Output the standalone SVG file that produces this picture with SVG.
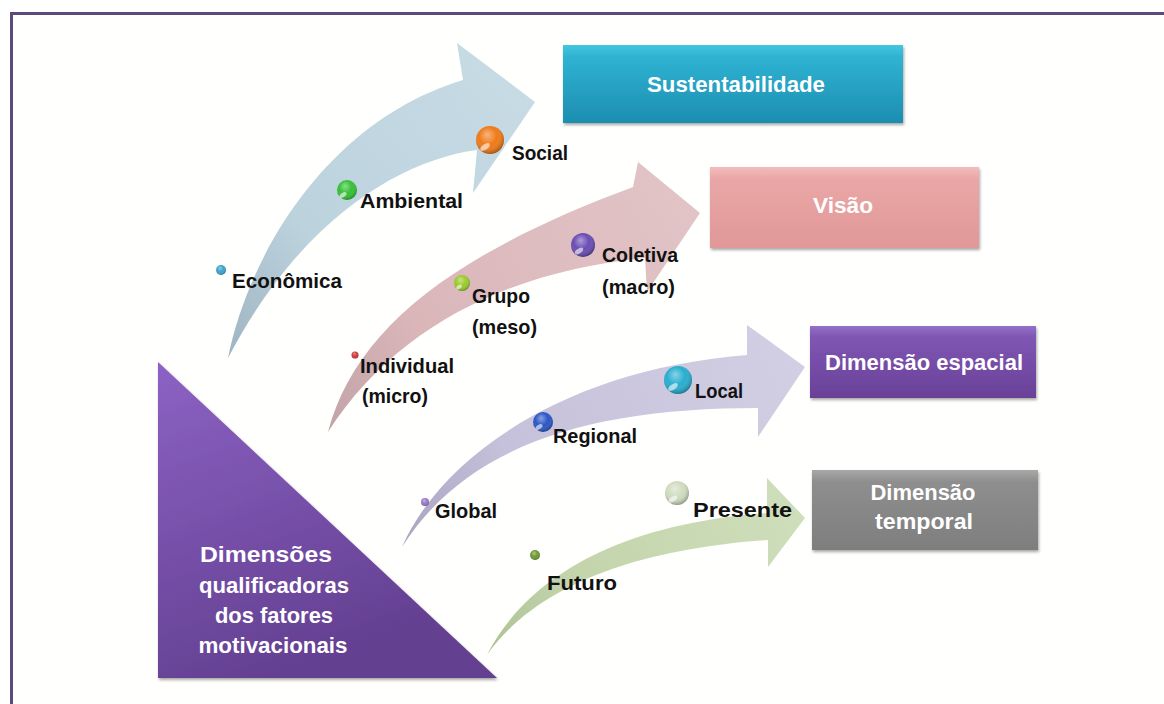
<svg xmlns="http://www.w3.org/2000/svg" width="1164" height="704" viewBox="0 0 1164 704">
<defs>
<style>
.lbl{font-family:"Liberation Sans Narrow","Liberation Sans",Arial,sans-serif;font-weight:bold;font-size:21px;fill:#111}
.wt{font-family:"Liberation Sans Narrow","Liberation Sans",Arial,sans-serif;font-weight:bold;font-size:22px;fill:#fff}
.gloss{fill:url(#gloss)}
.hl{fill:#fff;fill-opacity:0.6}
</style>
<radialGradient id="gloss" cx="0.45" cy="0.4" r="0.6" fx="0.4" fy="0.3">
<stop offset="0" stop-color="#fff" stop-opacity="0.45"/>
<stop offset="0.55" stop-color="#fff" stop-opacity="0"/>
<stop offset="1" stop-color="#000" stop-opacity="0.3"/>
</radialGradient>
<linearGradient id="g1" gradientUnits="userSpaceOnUse" x1="228" y1="358" x2="535" y2="100">
<stop offset="0" stop-color="#9fb4c2"/><stop offset="0.35" stop-color="#bcd2dd"/><stop offset="1" stop-color="#c6dbe4"/>
</linearGradient>
<linearGradient id="g2" gradientUnits="userSpaceOnUse" x1="328" y1="432" x2="700" y2="213">
<stop offset="0" stop-color="#c2a3a8"/><stop offset="0.3" stop-color="#dab6b9"/><stop offset="1" stop-color="#e2c4c6"/>
</linearGradient>
<linearGradient id="g3" gradientUnits="userSpaceOnUse" x1="402" y1="547" x2="805" y2="367">
<stop offset="0" stop-color="#a9a3c2"/><stop offset="0.3" stop-color="#c6c1da"/><stop offset="1" stop-color="#d2cee3"/>
</linearGradient>
<linearGradient id="g4" gradientUnits="userSpaceOnUse" x1="487" y1="655" x2="805" y2="515">
<stop offset="0" stop-color="#aec296"/><stop offset="0.3" stop-color="#c3d4ab"/><stop offset="1" stop-color="#cfdebb"/>
</linearGradient>
<linearGradient id="bSus" x1="0" y1="0" x2="0" y2="1">
<stop offset="0" stop-color="#45c6e0"/><stop offset="0.15" stop-color="#2fb3d2"/><stop offset="1" stop-color="#1d8db0"/>
</linearGradient>
<linearGradient id="bVis" x1="0" y1="0" x2="0" y2="1">
<stop offset="0" stop-color="#f4bcbc"/><stop offset="0.15" stop-color="#eaa6a6"/><stop offset="1" stop-color="#e09898"/>
</linearGradient>
<linearGradient id="bEsp" x1="0" y1="0" x2="0" y2="1">
<stop offset="0" stop-color="#9470c8"/><stop offset="0.15" stop-color="#7f56b4"/><stop offset="1" stop-color="#6a4198"/>
</linearGradient>
<linearGradient id="bTmp" x1="0" y1="0" x2="0" y2="1">
<stop offset="0" stop-color="#a8a8a8"/><stop offset="0.15" stop-color="#8e8e8e"/><stop offset="1" stop-color="#7e7e7e"/>
</linearGradient>
<linearGradient id="tri" x1="0" y1="0" x2="0.4" y2="1">
<stop offset="0" stop-color="#8c62c4"/><stop offset="1" stop-color="#633f90"/>
</linearGradient>
<filter id="sh" x="-10%" y="-10%" width="125%" height="130%">
<feDropShadow dx="1" dy="2" stdDeviation="1.5" flood-color="#000" flood-opacity="0.35"/>
</filter>
</defs>
<rect x="0" y="0" width="1164" height="704" fill="#ffffff"/>
<rect x="11.5" y="13.5" width="1200" height="800" fill="#fffffd" stroke="#5b4a7a" stroke-width="3"/>

<g id="connectors">
<path id="arrow-sust" fill="url(#g1)" d="M228,358 C250,250 330,120 463,80 L457,43 L535,102 L473,193 L477,150 C400,160 300,220 228,358 Z"/>
<path id="arrow-visao" fill="url(#g2)" d="M328,432 C355,330 450,255 633,187 L638,162 L700,213 L647,292 L645,258 C520,270 400,320 328,432 Z"/>
<path id="arrow-espacial" fill="url(#g3)" d="M402,547 C440,460 560,370 747,355 L747,325 L805,367 L758,437 L758,408 C600,408 470,440 402,547 Z"/>
<path id="arrow-temporal" fill="url(#g4)" d="M487,655 C520,590 600,525 767,513 L767,478 L805,518 L768,567 L768,540 C650,548 540,580 487,655 Z"/>
</g>

<g id="node-dimensoes">
<polygon points="158,362 158,678 497,678" fill="url(#tri)" filter="url(#sh)"/>
<text class="wt" x="266" y="562" text-anchor="middle" textLength="132" lengthAdjust="spacingAndGlyphs">Dimensões</text>
<text class="wt" x="274" y="593" text-anchor="middle" textLength="150" lengthAdjust="spacingAndGlyphs">qualificadoras</text>
<text class="wt" x="274" y="623" text-anchor="middle" textLength="118" lengthAdjust="spacingAndGlyphs">dos fatores</text>
<text class="wt" x="273" y="653" text-anchor="middle" textLength="149" lengthAdjust="spacingAndGlyphs">motivacionais</text>
</g>

<g id="node-sustentabilidade">
<rect x="563" y="45" width="340" height="78" fill="url(#bSus)" filter="url(#sh)"/>
<text class="wt" x="736" y="92" text-anchor="middle" textLength="178" lengthAdjust="spacingAndGlyphs">Sustentabilidade</text>
</g>
<g id="node-visao">
<rect x="710" y="167" width="269" height="81" fill="url(#bVis)" filter="url(#sh)"/>
<text class="wt" x="843" y="213" text-anchor="middle" textLength="60" lengthAdjust="spacingAndGlyphs">Visão</text>
</g>
<g id="node-espacial">
<rect x="810" y="326" width="226" height="72" fill="url(#bEsp)" filter="url(#sh)"/>
<text class="wt" x="924" y="370" text-anchor="middle" textLength="198" lengthAdjust="spacingAndGlyphs">Dimensão espacial</text>
</g>
<g id="node-temporal">
<rect x="812" y="470" width="226" height="80" fill="url(#bTmp)" filter="url(#sh)"/>
<text class="wt" x="923" y="500" text-anchor="middle" textLength="105" lengthAdjust="spacingAndGlyphs">Dimensão</text>
<text class="wt" x="924" y="529" text-anchor="middle" textLength="98" lengthAdjust="spacingAndGlyphs">temporal</text>
</g>

<g id="node-economica">
<circle cx="221" cy="270" r="5" fill="#3aa3cc"/><circle cx="221" cy="270" r="5" class="gloss"/>
<text class="lbl" x="232" y="288" textLength="110" lengthAdjust="spacingAndGlyphs">Econômica</text>
</g>
<g id="node-ambiental">
<circle cx="347" cy="190" r="10" fill="#35c035"/><circle cx="347" cy="190" r="10" class="gloss"/>
<ellipse cx="343" cy="195" rx="4" ry="2.2" transform="rotate(-35 343 195)" class="hl"/>
<text class="lbl" x="360" y="208" textLength="103" lengthAdjust="spacingAndGlyphs">Ambiental</text>
</g>
<g id="node-social">
<circle cx="490" cy="140" r="14" fill="#f07a18"/><circle cx="490" cy="140" r="14" class="gloss"/>
<ellipse cx="485" cy="147" rx="5.5" ry="2.8" transform="rotate(-35 485 147)" class="hl"/>
<text class="lbl" x="512" y="160" textLength="56" lengthAdjust="spacingAndGlyphs">Social</text>
</g>
<g id="node-individual">
<circle cx="355" cy="355" r="3.5" fill="#d03838"/><circle cx="355" cy="355" r="3.5" class="gloss"/>
<text class="lbl" x="360" y="373" textLength="94" lengthAdjust="spacingAndGlyphs">Individual</text>
<text class="lbl" x="362" y="403" textLength="66" lengthAdjust="spacingAndGlyphs">(micro)</text>
</g>
<g id="node-grupo">
<circle cx="462" cy="283" r="8" fill="#9acb2c"/><circle cx="462" cy="283" r="8" class="gloss"/>
<ellipse cx="459" cy="287" rx="3.2" ry="1.8" transform="rotate(-35 459 287)" class="hl"/>
<text class="lbl" x="472" y="303" textLength="58" lengthAdjust="spacingAndGlyphs">Grupo</text>
<text class="lbl" x="472" y="334" textLength="65" lengthAdjust="spacingAndGlyphs">(meso)</text>
</g>
<g id="node-coletiva">
<circle cx="583" cy="245" r="12" fill="#6a4cb4"/><circle cx="583" cy="245" r="12" class="gloss"/>
<ellipse cx="579" cy="251" rx="4.8" ry="2.4" transform="rotate(-35 579 251)" class="hl"/>
<text class="lbl" x="602" y="262" textLength="76" lengthAdjust="spacingAndGlyphs">Coletiva</text>
<text class="lbl" x="602" y="294" textLength="73" lengthAdjust="spacingAndGlyphs">(macro)</text>
</g>
<g id="node-global">
<circle cx="425" cy="502" r="4" fill="#9a78c4"/><circle cx="425" cy="502" r="4" class="gloss"/>
<text class="lbl" x="435" y="518" textLength="62" lengthAdjust="spacingAndGlyphs">Global</text>
</g>
<g id="node-regional">
<circle cx="543" cy="422" r="10" fill="#2b56c6"/><circle cx="543" cy="422" r="10" class="gloss"/>
<ellipse cx="539" cy="427" rx="4" ry="2.2" transform="rotate(-35 539 427)" class="hl"/>
<text class="lbl" x="553" y="443" textLength="84" lengthAdjust="spacingAndGlyphs">Regional</text>
</g>
<g id="node-local">
<circle cx="678" cy="380" r="14" fill="#28aed0"/><circle cx="678" cy="380" r="14" class="gloss"/>
<ellipse cx="673" cy="387" rx="5.5" ry="2.8" transform="rotate(-35 673 387)" class="hl"/>
<text class="lbl" x="695" y="398" textLength="48" lengthAdjust="spacingAndGlyphs">Local</text>
</g>
<g id="node-futuro">
<circle cx="535" cy="555" r="5" fill="#6e9a30"/><circle cx="535" cy="555" r="5" class="gloss"/>
<text class="lbl" x="547" y="590" textLength="70" lengthAdjust="spacingAndGlyphs">Futuro</text>
</g>
<g id="node-presente">
<circle cx="677" cy="493" r="12" fill="#cfdcbf"/><circle cx="677" cy="493" r="12" class="gloss"/>
<ellipse cx="673" cy="499" rx="4.8" ry="2.4" transform="rotate(-35 673 499)" class="hl"/>
<text class="lbl" x="693" y="517" textLength="99" lengthAdjust="spacingAndGlyphs">Presente</text>
</g>
</svg>
